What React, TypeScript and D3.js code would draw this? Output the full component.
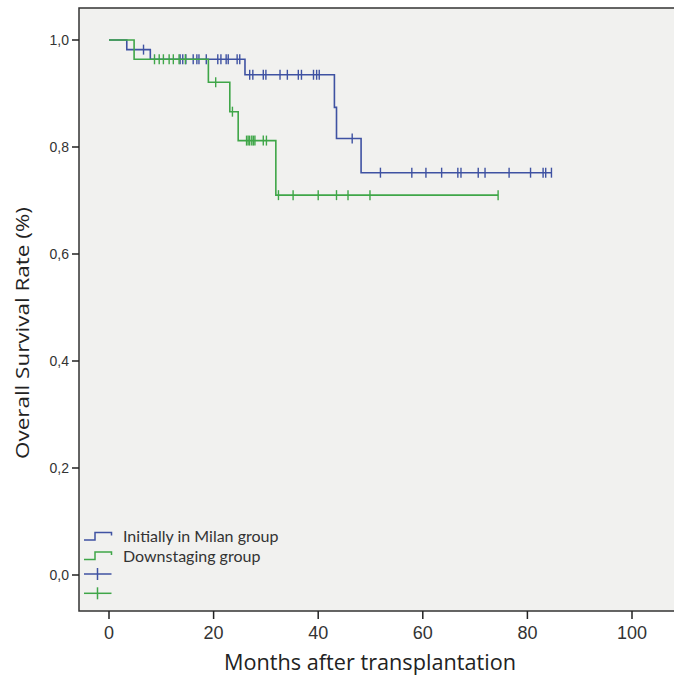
import React from 'react';
import * as d3 from 'd3';

// Kaplan-Meier steps: time (months) and survival after the drop
const milanEvents = [
  { t: 3.4, s: 0.982 },
  { t: 7.9, s: 0.964 },
  { t: 26.0, s: 0.935 },
  { t: 43.1, s: 0.874 },
  { t: 43.5, s: 0.816 },
  { t: 48.2, s: 0.752 }
];
const milanCensored = [
  6.6, 13.6, 14.1, 14.7, 16.1, 16.8, 17.2, 18.6, 20.8, 21.4, 22.4, 22.8, 24.5, 25.0,
  26.9, 27.5, 29.5, 30.0, 32.7, 34.1, 36.2, 36.8, 39.1, 39.7, 40.2, 46.5, 51.9, 57.9,
  60.6, 63.6, 66.7, 67.3, 70.6, 71.9, 76.5, 80.6, 83.0, 83.5, 84.6
];

const downEvents = [
  { t: 4.8, s: 0.964 },
  { t: 19.0, s: 0.921 },
  { t: 23.1, s: 0.866 },
  { t: 24.7, s: 0.812 },
  { t: 31.9, s: 0.71 }
];
const downCensored = [
  8.7, 9.6, 10.4, 11.5, 12.3, 13.4, 14.6, 20.4, 23.6, 26.3, 26.6, 26.9, 27.3, 27.6,
  27.9, 29.5, 30.1, 32.4, 35.2, 40.0, 43.5, 45.7, 49.9, 74.4
];

const xTicks = [0, 20, 40, 60, 80, 100];
const yTicks = [0, 0.2, 0.4, 0.6, 0.8, 1.0];
const legendLabels = ['Initially in Milan group', 'Downstaging group'];

const BLUE = '#3f52a2';
const GREEN = '#3fa648';

function survivalAt(events: { t: number; s: number }[], t: number) {
  let s = 1;
  events.forEach(e => {
    if (e.t <= t) s = e.s;
  });
  return s;
}

function stepPoints(events: { t: number; s: number }[], censored: number[]) {
  const end = d3.max(censored) as number;
  const pts: [number, number][] = [[0, 1]];
  events.forEach(e => pts.push([e.t, e.s]));
  pts.push([end, survivalAt(events, end)]);
  return pts;
}

export default function App() {
  const width = 674,
    height = 677;
  const frame = { left: 79, top: 8, right: 690, bottom: 611 };

  const x = d3.scaleLinear().domain([0, 100]).range([109, 632]);
  const y = d3.scaleLinear().domain([0, 1]).range([575, 40]);

  const line = d3
    .line<[number, number]>()
    .x(d => x(d[0]))
    .y(d => y(d[1]))
    .curve(d3.curveStepAfter);

  const series = [
    { events: milanEvents, censored: milanCensored, color: BLUE },
    { events: downEvents, censored: downCensored, color: GREEN }
  ];

  const tickFont = "'Liberation Sans Narrow', 'Liberation Sans', Arial, sans-serif";
  const titleFont = "'Open Sans', 'Noto Sans', sans-serif";
  const legendFont = "Lato, 'Open Sans', sans-serif";
  const fmt = (v: number) => v.toFixed(1).replace('.', ',');

  return (
    <svg
      width={width}
      height={height}
      style={{ position: 'absolute', left: 0, top: 0, background: '#fff' }}
    >
      {/* plot area */}
      <rect
        x={frame.left}
        y={frame.top}
        width={frame.right - frame.left}
        height={frame.bottom - frame.top}
        fill="#f1f1ef"
        stroke="#333"
        strokeWidth={1.5}
      />

      {/* y axis */}
      {yTicks.map(v => (
        <g key={v}>
          <line x1={72} x2={frame.left} y1={y(v)} y2={y(v)} stroke="#222" strokeWidth={1.5} />
          <text
            x={69}
            y={y(v)}
            dy="0.35em"
            textAnchor="end"
            fontSize={14}
            fontFamily={tickFont}
            fill="#333"
          >
            {fmt(v)}
          </text>
        </g>
      ))}

      {/* x axis */}
      {xTicks.map(v => (
        <g key={v}>
          <line x1={x(v)} x2={x(v)} y1={frame.bottom} y2={frame.bottom + 8} stroke="#222" strokeWidth={1.5} />
          <text
            x={x(v)}
            y={639}
            textAnchor="middle"
            fontSize={18}
            fontFamily={tickFont}
            fill="#333"
          >
            {v}
          </text>
        </g>
      ))}

      <text
        x={370}
        y={670}
        textAnchor="middle"
        fontSize={21}
        fontFamily={titleFont}
        fill="#222"
        textLength={292}
        lengthAdjust="spacingAndGlyphs"
      >
        Months after transplantation
      </text>
      <text
        transform="translate(29,333) rotate(-90)"
        textAnchor="middle"
        fontSize={19}
        fontFamily={titleFont}
        fill="#222"
        textLength={252}
        lengthAdjust="spacingAndGlyphs"
      >
        Overall Survival Rate (%)
      </text>

      {/* curves */}
      {series.map((s, i) => (
        <g key={i}>
          <path
            d={line(stepPoints(s.events, s.censored)) || ''}
            fill="none"
            stroke={s.color}
            strokeWidth={1.6}
          />
          {s.censored.map((t, j) => (
            <line
              key={j}
              x1={x(t)}
              x2={x(t)}
              y1={y(survivalAt(s.events, t)) - 5}
              y2={y(survivalAt(s.events, t)) + 5}
              stroke={s.color}
              strokeWidth={1.4}
            />
          ))}
        </g>
      ))}

      {/* legend */}
      {legendLabels.map((label, i) => {
        const yy = 540 + i * 19.5;
        return (
          <g key={label}>
            <path
              d={`M84,${yy}H95V${yy - 7.5}H111.5V${yy - 4.5}`}
              fill="none"
              stroke={series[i].color}
              strokeWidth={1.5}
            />
            <text x={123} y={yy + 2} fontSize={16} fontFamily={legendFont} fill="#333">
              {label}
            </text>
          </g>
        );
      })}
      {series.map((s, i) => {
        const yy = 574 + i * 19.3;
        return (
          <g key={'c' + i}>
            <line x1={84} x2={111.5} y1={yy} y2={yy} stroke={s.color} strokeWidth={1.5} />
            <line x1={97.5} x2={97.5} y1={yy - 6} y2={yy + 6} stroke={s.color} strokeWidth={1.5} />
          </g>
        );
      })}
    </svg>
  );
}
